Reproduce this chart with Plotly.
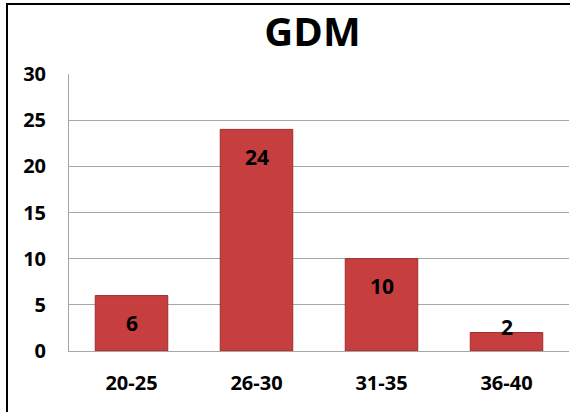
import plotly.graph_objects as go

categories = ["20-25", "26-30", "31-35", "36-40"]
values = [6, 24, 10, 2]
y_ticks = [0, 5, 10, 15, 20, 25, 30]
title_text = "GDM"

FONT = "Open Sans"
W, H = 570, 412
ML, MR, MT, MB = 69, 1, 74, 61
plot_h = H - MT - MB
ymax = 30

fig = go.Figure()
fig.add_trace(go.Bar(
    x=categories, y=values,
    marker=dict(color="#C73E3E", line=dict(color="#9E2C2C", width=1)),
    width=0.58,
    hoverinfo="x+y",
))

annotations = []
for c, v in zip(categories, values):
    px_h = v / ymax * plot_h
    shift = -27.5 if px_h > 40 else 6
    annotations.append(dict(
        x=c, y=v, xref="x", yref="y", text=str(v), showarrow=False,
        yanchor="middle", yshift=shift,
        font=dict(family=FONT, size=21, color="black", weight="bold"),
    ))

fig.update_layout(
    width=W, height=H,
    margin=dict(l=ML, r=MR, t=MT, b=MB),
    paper_bgcolor="white", plot_bgcolor="white",
    showlegend=False,
    title=dict(text="<b>" + title_text + "</b>", x=312.5 / W, xanchor="center",
               y=1 - 32 / H, yanchor="middle", yref="container",
               font=dict(family=FONT, size=40, color="black")),
    annotations=annotations,
    xaxis=dict(
        showgrid=False, showline=True, linecolor="#A6A6A6", linewidth=1,
        ticks="", ticklabelstandoff=14,
        tickfont=dict(family=FONT, size=20, color="black", weight="bold"),
        fixedrange=True,
    ),
    yaxis=dict(
        range=[0, ymax], tickvals=y_ticks,
        showgrid=True, gridcolor="#A6A6A6", gridwidth=1,
        showline=True, linecolor="#A6A6A6", linewidth=1,
        zeroline=False, ticks="", ticklabelstandoff=18,
        tickfont=dict(family=FONT, size=20, color="black", weight="bold"),
        fixedrange=True,
    ),
    shapes=[dict(type="rect", xref="paper", yref="paper",
                 x0=(7 - ML) / (W - ML - MR), x1=1.2,
                 y0=-0.3, y1=(H - MB - 4) / plot_h,
                 line=dict(color="black", width=2), layer="above")],
)

fig.write_html("out.html")
